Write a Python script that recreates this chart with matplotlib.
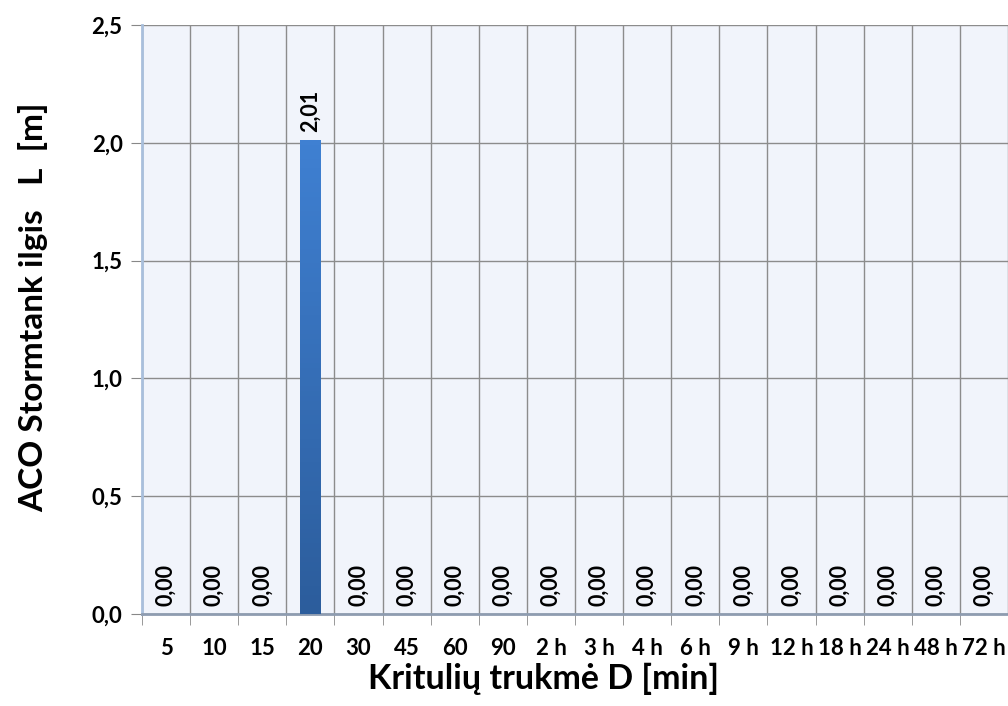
import numpy as np
import matplotlib
matplotlib.use("Agg")
import matplotlib.pyplot as plt
from matplotlib.colors import LinearSegmentedColormap

# --- Data ---
durations = ["5", "10", "15", "20", "30", "45", "60", "90", "2 h", "3 h",
             "4 h", "6 h", "9 h", "12 h", "18 h", "24 h", "48 h", "72 h"]
lengths = [0.00, 0.00, 0.00, 2.01, 0.00, 0.00, 0.00, 0.00, 0.00, 0.00,
           0.00, 0.00, 0.00, 0.00, 0.00, 0.00, 0.00, 0.00]

plt.rcParams['font.family'] = ['Lato', 'DejaVu Sans']
plt.rcParams['font.weight'] = 'bold'

fig = plt.figure(figsize=(10.08, 7.06), dpi=100)
ax = fig.add_axes([142/1008, 1 - 614/706, 866/1008, 589/706])
ax.set_facecolor("#f1f4fb")

x = np.arange(len(durations))
bars = ax.bar(x, lengths, width=0.42, color="#3a76c4", zorder=3)

# vertical gradient on the bars (lighter top, darker bottom)
cmap = LinearSegmentedColormap.from_list("bar", ["#2c5d9c", "#3f80d2"])
for b in bars:
    if b.get_height() <= 0:
        continue
    bx, bw, bh = b.get_x(), b.get_width(), b.get_height()
    im = ax.imshow(np.linspace(0, 1, 100).reshape(-1, 1), cmap=cmap,
                   extent=[bx, bx + bw, 0, bh], origin="lower",
                   aspect="auto", zorder=3)
    im.set_clip_path(b)

# value labels
for xi, v in zip(x, lengths):
    ax.annotate(f"{v:.2f}".replace(".", ","), (xi, v), xytext=(0, 6),
                textcoords="offset points", rotation=90, ha="center",
                va="bottom", fontsize=15.5, fontweight="bold", zorder=4)

ax.set_xlim(-0.5, len(durations) - 0.5)
ax.set_ylim(0, 2.5)
ax.set_aspect("auto")

ax.set_xticks(x)
ax.set_xticklabels(durations, fontsize=16, fontweight="bold")
ax.set_xticks(np.arange(-0.5, len(durations), 1), minor=True)
ax.tick_params(axis="x", which="major", length=0, pad=17)
ax.tick_params(axis="x", which="minor", length=8, color="#888888")

yt = np.arange(0, 2.51, 0.5)
ax.set_yticks(yt)
ax.set_yticklabels([f"{t:.1f}".replace(".", ",") for t in yt],
                   fontsize=16, fontweight="bold")
ax.tick_params(axis="y", length=8, color="#888888", pad=6)

ax.grid(True, axis="y", which="major", color="#8c8c8c", lw=1, zorder=1)
ax.grid(True, axis="x", which="minor", color="#8c8c8c", lw=1, zorder=1)
ax.grid(False, axis="x", which="major")
ax.set_axisbelow(True)

for s in ["top", "right"]:
    ax.spines[s].set_visible(False)
ax.spines["left"].set_color("#a9bfdc")
ax.spines["left"].set_linewidth(2)
ax.spines["bottom"].set_color("#8e9cb0")
ax.spines["bottom"].set_linewidth(2)

ax.set_xlabel("Kritulių trukmė D [min]", fontsize=24.5, fontweight="bold")
ax.xaxis.set_label_coords((543 - 142) / 866, -0.082)
ax.set_ylabel("ACO Stormtank ilgis   L  [m]", fontsize=24, fontweight="bold")
ax.yaxis.set_label_coords(-0.108, 0.52)

fig.savefig("out.png", dpi=100)
